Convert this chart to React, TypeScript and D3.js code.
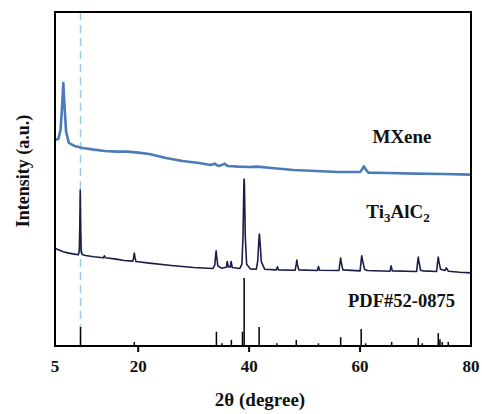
import React from "react";
import * as d3 from "d3";

// Diffraction angle range (2θ, degrees) and tick labels
const thetaDomain = [5, 80];
const thetaTicks = [5, 20, 40, 60, 80];

// MXene pattern, stacked intensity (a.u.)
const mxeneTheta = [5.0, 5.6, 6.0, 6.3, 6.5, 6.7, 7.0, 7.5, 8.5, 10, 12, 14, 16, 18, 20, 22, 25, 28, 31, 33, 33.8, 34.2, 34.6, 35.2, 35.6, 36.1, 37, 38, 40, 41.5, 44, 48, 52, 56, 60, 60.4, 60.7, 61.0, 61.5, 65, 70, 75, 80];
const mxeneInt = [61.7, 62.0, 64.7, 72.2, 78.7, 72.2, 64.1, 60.8, 59.9, 59.3, 58.8, 58.4, 58.2, 58.2, 57.9, 57.5, 56.3, 55.4, 54.8, 54.2, 54.6, 54.1, 53.9, 54.3, 54.6, 53.9, 53.8, 53.7, 53.6, 53.7, 53.3, 52.7, 52.4, 52.1, 52.1, 53.0, 53.8, 52.9, 51.9, 51.8, 51.6, 51.5, 51.3];

// Ti3AlC2 pattern, stacked intensity (a.u.)
const tiTheta = [5.0, 5.5, 6.5, 7.5, 8.5, 9.2, 9.38, 9.47, 9.55, 9.63, 9.72, 9.9, 10.5, 12, 13.7, 13.9, 14.1, 16, 17.5, 19.0, 19.15, 19.3, 19.45, 19.6, 22, 26, 30, 33.5, 33.8, 33.95, 34.05, 34.15, 34.35, 35, 35.9, 36.05, 36.25, 36.6, 36.75, 36.95, 38.3, 38.7, 38.9, 39.05, 39.1, 39.15, 39.3, 39.55, 40.2, 41.3, 41.55, 41.75, 41.85, 41.95, 42.2, 42.8, 44.9, 45.1, 45.3, 48.3, 48.5, 48.6, 48.7, 48.95, 52.3, 52.5, 52.7, 56.2, 56.4, 56.5, 56.6, 56.9, 60.0, 60.2, 60.3, 60.45, 60.8, 61.3, 65.4, 65.6, 65.8, 70.2, 70.4, 70.5, 70.6, 70.9, 71.3, 73.8, 74.0, 74.1, 74.2, 74.5, 75.3, 75.55, 75.9, 78, 80];
const tiInt = [29.3, 28.9, 28.2, 27.8, 27.5, 27.3, 28.5, 36.0, 46.7, 36.0, 28.6, 27.4, 27.1, 26.7, 26.4, 27.0, 26.4, 26.0, 25.6, 25.4, 26.2, 27.8, 26.2, 25.3, 24.8, 24.1, 23.5, 23.2, 24.2, 26.8, 28.5, 26.8, 24.0, 23.3, 23.6, 25.3, 23.7, 23.7, 25.3, 23.5, 23.2, 24.5, 33.0, 48.5, 50.0, 48.5, 33.0, 24.5, 23.1, 23.0, 25.5, 31.5, 33.5, 31.5, 25.2, 23.0, 22.8, 23.7, 22.8, 22.7, 24.5, 25.7, 24.5, 22.8, 22.6, 23.8, 22.7, 22.6, 25.2, 26.3, 25.2, 22.8, 22.5, 25.6, 27.0, 25.6, 23.0, 22.6, 22.4, 24.0, 22.5, 22.3, 25.4, 26.6, 25.4, 22.7, 22.5, 22.3, 25.4, 26.6, 25.4, 23.0, 22.6, 23.4, 22.4, 22.1, 21.9];

// Reference card PDF#52-0875: line positions and relative intensities (%)
const pdfTheta = [9.6, 19.3, 34.1, 35.1, 36.8, 38.8, 39.1, 41.8, 45.0, 48.5, 52.5, 56.5, 60.2, 61.0, 65.7, 70.5, 71.2, 74.1, 74.4, 74.8, 75.9];
const pdfRel = [28, 6, 21, 4, 9, 21, 100, 28, 4, 9, 4, 13, 25, 4, 6, 12, 4, 19, 10, 6, 6];

// (002) reflection marker
const markerTheta = 9.6;

const seriesLabels = ["MXene", "PDF#52-0875"];

const W = 482;
const H = 414;
const margin = { left: 55, right: 11, top: 12, bottom: 68 };
const FONT = "'Times New Roman', 'Liberation Serif', serif";

export default function App() {
  const x0 = margin.left;
  const x1 = W - margin.right;
  const y0 = H - margin.bottom;
  const y1 = margin.top;

  const x = d3.scaleLinear().domain(thetaDomain).range([x0, x1]);
  const y = d3.scaleLinear().domain([0, 100]).range([y0, y1]);
  const yPdf = d3.scaleLinear().domain([0, 100]).range([y0, y0 - 68]);

  const line = d3
    .line<[number, number]>()
    .x((d) => x(d[0]))
    .y((d) => y(d[1]));

  const mxene = mxeneTheta.map((t, i) => [t, mxeneInt[i]] as [number, number]);
  const ti = tiTheta.map((t, i) => [t, tiInt[i]] as [number, number]);

  return (
    <div style={{ position: "absolute", left: 0, top: 0 }}>
      <svg width={W} height={H} style={{ display: "block", background: "#fff" }}>
        {/* (002) guide */}
        <line
          x1={x(markerTheta)}
          x2={x(markerTheta)}
          y1={y1}
          y2={y0}
          stroke="#9ccbe8"
          strokeWidth={1.5}
          strokeDasharray="8 5"
        />
        {/* reference lines */}
        {pdfTheta.map((t, i) => (
          <line
            key={i}
            x1={x(t)}
            x2={x(t)}
            y1={y0}
            y2={yPdf(pdfRel[i])}
            stroke="#000"
            strokeWidth={1.5}
          />
        ))}
        <path d={line(ti) || ""} fill="none" stroke="#1b1c4a" strokeWidth={1.6} strokeLinejoin="round" />
        <path d={line(mxene) || ""} fill="none" stroke="#4b7cb8" strokeWidth={2.6} strokeLinejoin="round" />

        {/* frame */}
        <rect x={x0} y={y1} width={x1 - x0} height={y0 - y1} fill="none" stroke="#000" strokeWidth={2} />

        {/* x ticks */}
        {thetaTicks.map((t) => (
          <g key={t} transform={`translate(${x(t)},${y0})`}>
            {t !== thetaDomain[0] && t !== thetaDomain[1] && (
              <line y1={0} y2={6} stroke="#000" strokeWidth={2} />
            )}
            <text
              y={26}
              textAnchor="middle"
              fontFamily={FONT}
              fontWeight="bold"
              fontSize={17}
              fill="#111"
            >
              {t}
            </text>
          </g>
        ))}

        <text x={260} y={406} textAnchor="middle" fontFamily={FONT} fontWeight="bold" fontSize={19} fill="#111">
          2θ (degree)
        </text>
        <text
          transform="translate(29,171) rotate(-90)"
          textAnchor="middle"
          fontFamily={FONT}
          fontWeight="bold"
          fontSize={18}
          fill="#111"
        >
          Intensity (a.u.)
        </text>

        {/* series labels */}
        <text x={402} y={143} textAnchor="middle" fontFamily={FONT} fontWeight="bold" fontSize={19} fill="#111">
          {seriesLabels[0]}
        </text>
        <text x={398} y={218} textAnchor="middle" fontFamily={FONT} fontWeight="bold" fontSize={19} fill="#111">
          Ti
          <tspan fontSize={13} dy={4}>3</tspan>
          <tspan dy={-4}>AlC</tspan>
          <tspan fontSize={13} dy={4}>2</tspan>
        </text>
        <text x={401.5} y={307} textAnchor="middle" fontFamily={FONT} fontWeight="bold" fontSize={18.5} fill="#111">
          {seriesLabels[1]}
        </text>
      </svg>
    </div>
  );
}
